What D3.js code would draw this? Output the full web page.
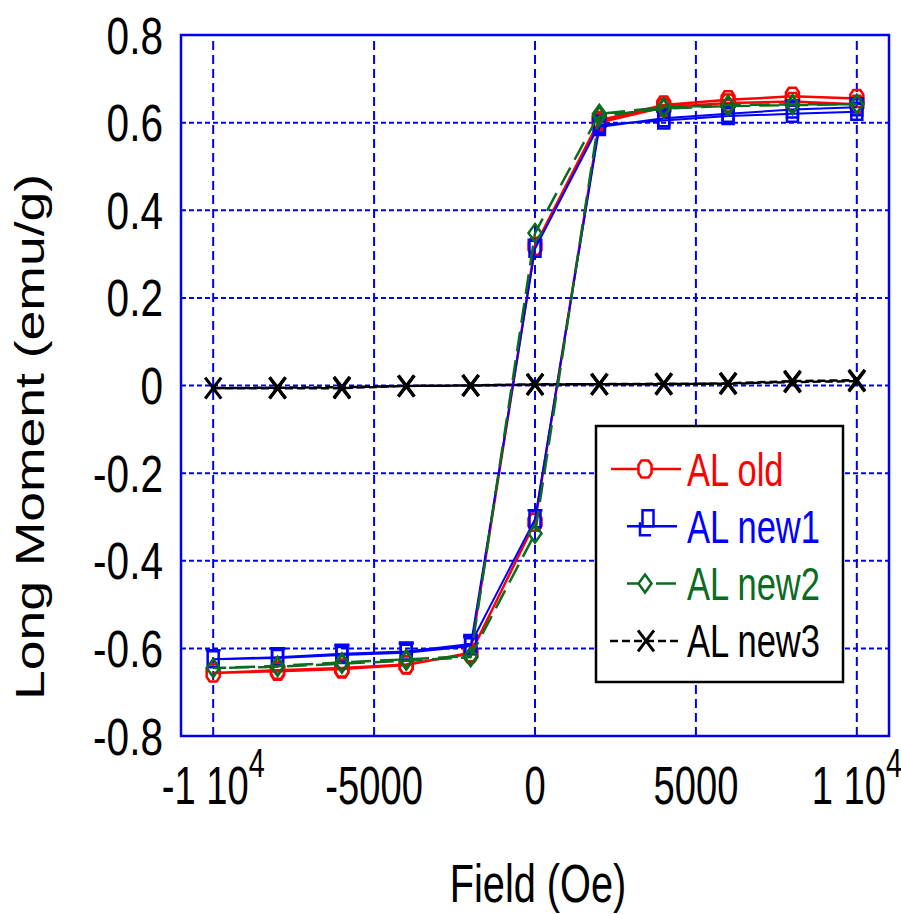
<!DOCTYPE html>
<html>
<head>
<meta charset="utf-8">
<script src="https://cdn.jsdelivr.net/npm/d3@7"></script>
<style>
  body { margin: 0; background: #fff; }
  text { font-family: "Liberation Sans", Arial, sans-serif; }
</style>
</head>
<body>
<svg width="901" height="914"></svg>
<script>
// hysteresis loop: 10000 -> -10000 -> 10000 Oe
const field = [10000, 8000, 6000, 4000, 2000, 0, -2000, -4000, -6000, -8000, -10000,
               -8000, -6000, -4000, -2000, 0, 2000, 4000, 6000, 8000, 10000];

const momentOld  = [0.655, 0.66, 0.652, 0.64, 0.605, 0.318, -0.61, -0.638, -0.647, -0.652, -0.656,
                    -0.65, -0.645, -0.637, -0.612, -0.312, 0.60, 0.635, 0.645, 0.648, 0.642];
const momentNew1 = [0.625, 0.62, 0.615, 0.605, 0.595, 0.312, -0.595, -0.61, -0.615, -0.622, -0.625,
                    -0.62, -0.612, -0.607, -0.59, -0.305, 0.59, 0.61, 0.62, 0.63, 0.635];
const momentNew2 = [0.642, 0.642, 0.64, 0.635, 0.62, 0.348, -0.62, -0.628, -0.635, -0.642, -0.645,
                    -0.64, -0.632, -0.625, -0.618, -0.338, 0.615, 0.632, 0.638, 0.64, 0.642];
const momentNew3 = [0.01, 0.008, 0.004, 0.004, 0.003, 0.002, 0.0, -0.001, -0.006, -0.006, -0.006,
                    -0.005, -0.004, -0.001, 0.0, 0.003, 0.003, 0.003, 0.005, 0.01, 0.012];

const seriesNames = ['AL old', 'AL new1', 'AL new2', 'AL new3'];

const xTicks = [-10000, -5000, 0, 5000, 10000];
const xTickLabels = [['-1 10', '4'], ['-5000', ''], ['0', ''], ['5000', ''], ['1 10', '4']];
const yTicks = [-0.8, -0.6, -0.4, -0.2, 0, 0.2, 0.4, 0.6, 0.8];
const yTickLabels = ['-0.8', '-0.6', '-0.4', '-0.2', '0', '0.2', '0.4', '0.6', '0.8'];

const svg = d3.select('svg');

const x = d3.scaleLinear().domain([-11000, 11000]).range([181, 889]);
const y = d3.scaleLinear().domain([-0.8, 0.8]).range([736, 35]);

const blue = '#0000f0';

// grid
svg.append('g')
  .selectAll('line')
  .data(yTicks.slice(1, -1)).enter()
  .append('line')
    .attr('x1', x.range()[0]).attr('x2', x.range()[1])
    .attr('y1', d => y(d)).attr('y2', d => y(d))
    .attr('stroke', blue).attr('stroke-width', 2)
    .attr('stroke-dasharray', '5,3');

svg.append('g')
  .selectAll('line')
  .data(xTicks).enter()
  .append('line')
    .attr('x1', d => x(d)).attr('x2', d => x(d))
    .attr('y1', y.range()[0]).attr('y2', y.range()[1])
    .attr('stroke', blue).attr('stroke-width', 2)
    .attr('stroke-dasharray', '9,5');

svg.append('rect')
  .attr('x', x.range()[0]).attr('y', y.range()[1])
  .attr('width', x.range()[1] - x.range()[0])
  .attr('height', y.range()[0] - y.range()[1])
  .attr('fill', 'none').attr('stroke', blue).attr('stroke-width', 2.5);

// tick labels
svg.append('g')
  .selectAll('text')
  .data(yTicks).enter()
  .append('text')
    .attr('transform', d => `translate(163,${y(d) + 18.5}) scale(0.78,1)`)
    .attr('text-anchor', 'end')
    .attr('font-size', 52)
    .text((d, i) => yTickLabels[i]);

const xl = svg.append('g')
  .selectAll('text')
  .data(xTicks).enter()
  .append('text')
    .attr('transform', d => `translate(${x(d)},804) scale(0.72,1)`)
    .attr('text-anchor', 'middle')
    .attr('font-size', 53);
xl.append('tspan').text((d, i) => xTickLabels[i][0]);
xl.append('tspan')
  .attr('font-size', 40).attr('dy', -27)
  .text((d, i) => xTickLabels[i][1]);

// axis titles
svg.append('text')
  .attr('transform', 'translate(538,902) scale(0.75,1)')
  .attr('text-anchor', 'middle')
  .attr('font-size', 53)
  .text('Field (Oe)');

svg.append('text')
  .attr('transform', 'translate(44,437) scale(0.75,1) rotate(-90)')
  .attr('text-anchor', 'middle')
  .attr('font-size', 53.5)
  .text('Long Moment (emu/g)');

// series
const series = [
  {name: seriesNames[3], values: momentNew3, color: '#000000', dash: '8,4',  width: 2.5, marker: 'cross'},
  {name: seriesNames[0], values: momentOld,  color: '#ff0000', dash: null,   width: 2.5, marker: 'circle'},
  {name: seriesNames[1], values: momentNew1, color: '#0000ff', dash: null,   width: 2,   marker: 'square'},
  {name: seriesNames[2], values: momentNew2, color: '#0b6b1f', dash: '20,9', width: 2.5, marker: 'diamond'}
];

const markerPath = {
  circle:  'M-3.5,-8.5 L3.5,-8.5 L6.5,-4 L6.5,4 L3.5,8.5 L-3.5,8.5 L-6.5,4 L-6.5,-4 Z',
  square:  'M-5.5,-8 L5.5,-8 L5.5,8 L-5.5,8 Z M-7.5,-9 L7.5,-9',
  diamond: 'M0,-9 L6.5,0 L0,9 L-6.5,0 Z',
  cross:   'M-8,-10.5 L8,10.5 M8,-10.5 L-8,10.5'
};

const line = d3.line()
  .x((d, i) => x(field[i]))
  .y(d => y(d));

const plot = svg.append('g');

series.forEach(s => {
  plot.append('path')
    .attr('d', line(s.values))
    .attr('fill', 'none')
    .attr('stroke', s.color)
    .attr('stroke-width', s.width)
    .attr('stroke-dasharray', s.dash);

  plot.append('g')
    .selectAll('path')
    .data(s.values).enter()
    .append('path')
      .attr('transform', (d, i) => `translate(${x(field[i])},${y(d)})`)
      .attr('d', markerPath[s.marker])
      .attr('fill', 'none')
      .attr('stroke', s.color)
      .attr('stroke-width', s.marker === 'cross' ? 3.2 : 2.5);
});

// legend
const legend = svg.append('g');
legend.append('rect')
  .attr('x', 596).attr('y', 426).attr('width', 247).attr('height', 256)
  .attr('fill', '#fff').attr('stroke', '#000').attr('stroke-width', 2.5);

const legendRows = [
  {s: series[1], x1: 611, x2: 681, mx: 645},
  {s: series[2], x1: 627, x2: 677, mx: 648},
  {s: series[3], x1: 627, x2: 677, mx: 645},
  {s: series[0], x1: 610, x2: 681, mx: 646}
];

legendRows.forEach((r, i) => {
  const cy = 469 + i * 57.3;
  legend.append('line')
    .attr('x1', r.x1).attr('x2', r.x2).attr('y1', cy).attr('y2', cy)
    .attr('stroke', r.s.color).attr('stroke-width', 2.5)
    .attr('stroke-dasharray', r.s.dash);
  legend.append('path')
    .attr('transform', `translate(${r.mx},${r.s.marker === 'square' ? cy - 8 : cy})`)
    .attr('d', r.s.marker === 'square' ? 'M-5.5,-8 L5.5,-8 L5.5,8 L-5.5,8 Z' : markerPath[r.s.marker])
    .attr('fill', '#fff')
    .attr('stroke', r.s.color)
    .attr('stroke-width', r.s.marker === 'cross' ? 3 : 2.5);
  if (r.s.marker === 'square') {
    legend.append('path')
      .attr('d', `M${r.mx - 8},${cy - 4} L${r.mx - 8},${cy + 9} L${r.mx + 3},${cy + 9}`)
      .attr('fill', 'none').attr('stroke', r.s.color).attr('stroke-width', 2.5);
  }
  legend.append('text')
    .attr('transform', `translate(687,${cy + 16.5}) scale(0.75,1)`)
    .attr('font-size', 46)
    .attr('fill', r.s.color)
    .text(r.s.name);
});
</script>
</body>
</html>
